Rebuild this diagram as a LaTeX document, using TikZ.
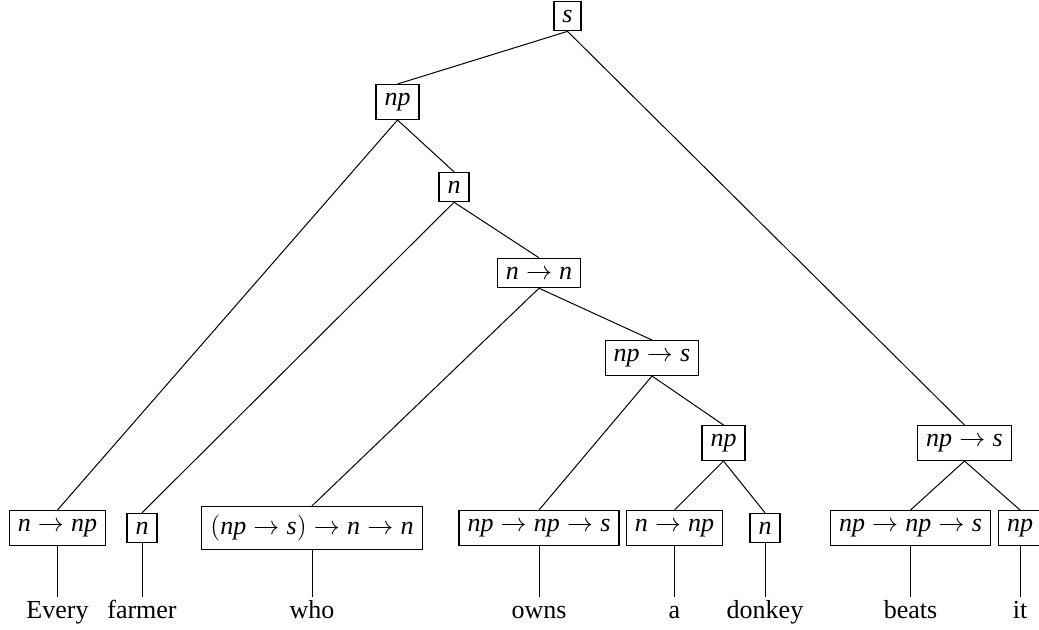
\RequirePackage{fix-cm}
\documentclass[tikz,border=0pt]{standalone}
\usepackage{fontspec}
\setmainfont{Liberation Serif}
% category letters set in the italic of the text font
\newcommand\ty[1]{\textit{#1}}
\tikzset{
  catbox/.style={draw, line width=0.6pt, inner sep=4.25pt,
    font=\fontsize{13}{15}\selectfont},
  wordlbl/.style={inner sep=1.5pt, text height=9pt, text depth=3pt,
    anchor=base, font=\fontsize{13}{15}\selectfont},
  branch/.style={line width=0.5pt},
}
\begin{document}
\begin{tikzpicture}[x=0.5pt, y=-0.5pt]
\useasboundingbox (0,0) rectangle (1039,629);

% inner categories
\node[catbox] (s)    at (567.5,16)  {$\ty{s}$};
\node[catbox] (np1)  at (397.5,102) {$\ty{np}$};
\node[catbox] (n1)   at (454,187)   {$\ty{n}$};
\node[catbox] (nn)   at (539,273)   {$\ty{n}\rightarrow\ty{n}$};
\node[catbox] (nps1) at (652,358)   {$\ty{np}\rightarrow\ty{s}$};
\node[catbox] (np2)  at (723.5,443) {$\ty{np}$};
\node[catbox] (nps2) at (964.5,443) {$\ty{np}\rightarrow\ty{s}$};

% lexical categories
\node[catbox] (l1) at (57.5,528)  {$\ty{n}\rightarrow\ty{np}$};
\node[catbox] (l2) at (142,528)   {$\ty{n}$};
\node[catbox] (l3) at (312,528)   {$(\ty{np}\rightarrow\ty{s})\rightarrow\ty{n}\rightarrow\ty{n}$};
\node[catbox] (l4) at (539,528)   {$\ty{np}\rightarrow\ty{np}\rightarrow\ty{s}$};
\node[catbox] (l5) at (674.5,528) {$\ty{n}\rightarrow\ty{np}$};
\node[catbox] (l6) at (765,528)   {$\ty{n}$};
\node[catbox] (l7) at (910.5,528) {$\ty{np}\rightarrow\ty{np}\rightarrow\ty{s}$};
\node[catbox] (l8) at (1020,528)  {$\ty{np}$};

% words
\node[wordlbl] (w1) at (57.5,618)  {Every};
\node[wordlbl] (w2) at (142,618)   {farmer};
\node[wordlbl] (w3) at (312,618)   {who};
\node[wordlbl] (w4) at (539,618)   {owns};
\node[wordlbl] (w5) at (674.5,618) {a};
\node[wordlbl] (w6) at (765,618)   {donkey};
\node[wordlbl] (w7) at (910.5,618) {beats};
\node[wordlbl] (w8) at (1020,618)  {it};

% branches
\draw[branch] (s.south)    -- (np1.north);
\draw[branch] (s.south)    -- (nps2.north);
\draw[branch] (np1.south)  -- (l1.north);
\draw[branch] (np1.south)  -- (n1.north);
\draw[branch] (n1.south)   -- (l2.north);
\draw[branch] (n1.south)   -- (nn.north);
\draw[branch] (nn.south)   -- (l3.north);
\draw[branch] (nn.south)   -- (nps1.north);
\draw[branch] (nps1.south) -- (l4.north);
\draw[branch] (nps1.south) -- (np2.north);
\draw[branch] (np2.south)  -- (l5.north);
\draw[branch] (np2.south)  -- (l6.north);
\draw[branch] (nps2.south) -- (l7.north);
\draw[branch] (nps2.south) -- (l8.north);

% leaves down to the words
\foreach \i in {1,...,8}
  \draw[branch] (l\i.south) -- (l\i.south |- w\i.north);
\end{tikzpicture}
\end{document}
